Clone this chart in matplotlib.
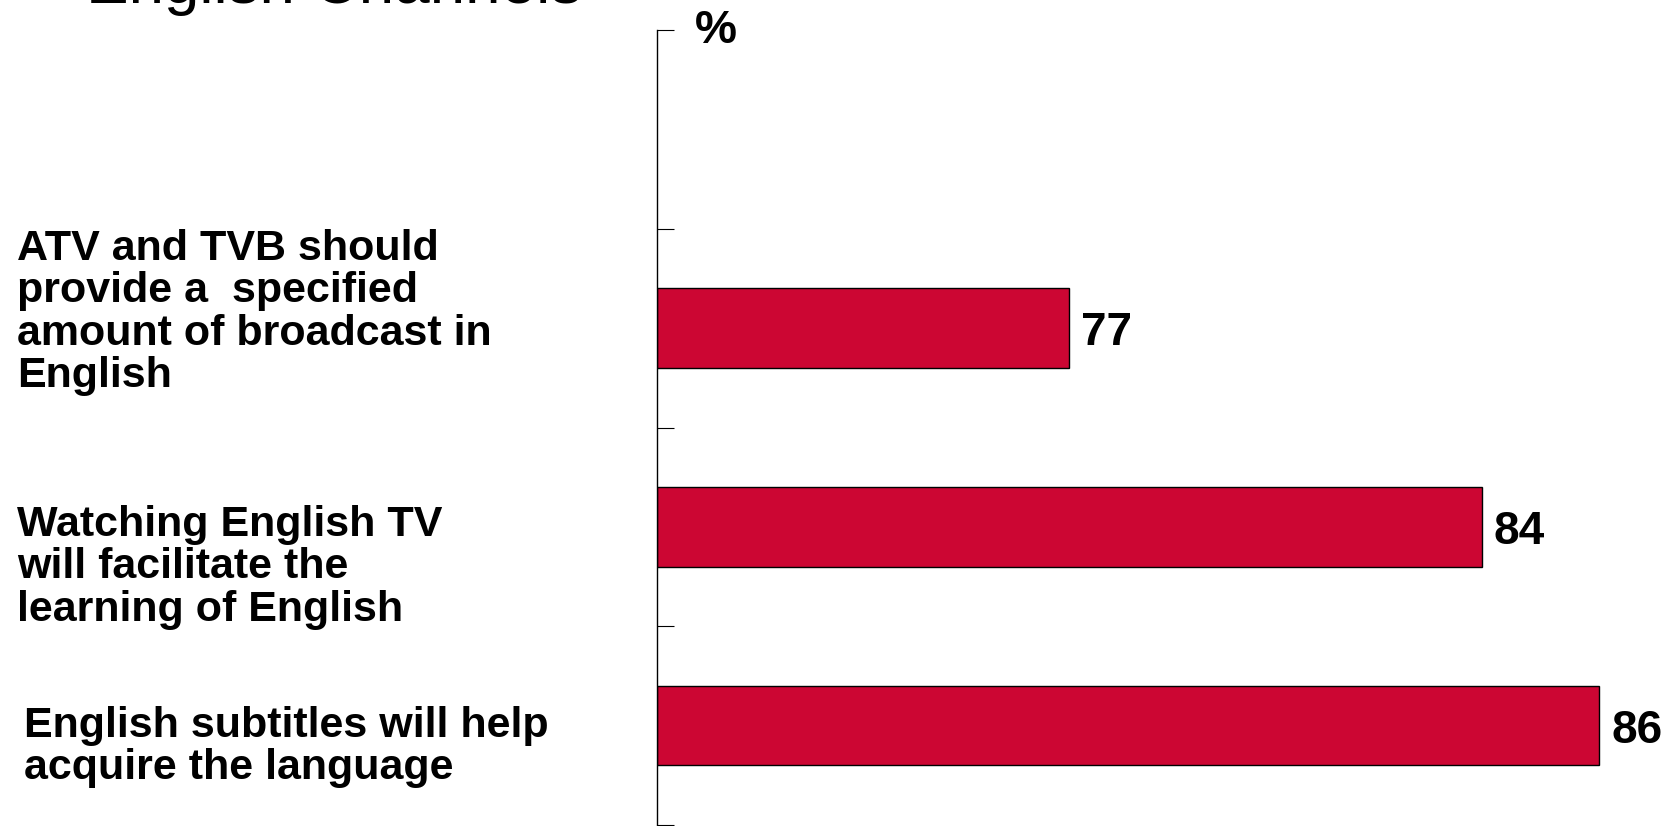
import matplotlib
matplotlib.use("Agg")
from matplotlib import pyplot as plt
from matplotlib import transforms

# Agreement with statements about English channels (%)
statements = [
    "English subtitles will help\nacquire the language",
    "Watching English TV\nwill facilitate the\nlearning of English",
    "ATV and TVB should\nprovide a  specified\namount of broadcast in\nEnglish",
]
percent = [86, 84, 77]

title = "English Channels"
unit_label = "%"

# label placement: figure x (px) and nudge from bar centre (in slot units)
label_x_px = [24, 17, 17]
label_nudge = [0.10, 0.11, 0.50]

bar_red = "#CC0633"

plt.rcParams["font.family"] = ["Liberation Sans", "DejaVu Sans"]

W, H = 1673, 826
fig = plt.figure(figsize=(W / 100, H / 100), dpi=100)

# axes box in pixels: left spine at x=657, top tick at y=30, bottom tick at y=825
left, top, bottom = 657, 30, 825
x_min, x_max = 70, 87
px_per_unit = 58.9
right = left + (x_max - x_min) * px_per_unit
ax = fig.add_axes([left / W, (H - bottom) / H, (right - left) / W, (bottom - top) / H])

ypos = list(range(len(statements)))
ax.barh(ypos, [p - x_min for p in percent], left=x_min, height=0.40,
        color=bar_red, edgecolor="black", linewidth=1.0)

ax.set_xlim(x_min, x_max)
ax.set_ylim(-0.5, len(statements) + 0.5)

for side in ["top", "right", "bottom"]:
    ax.spines[side].set_visible(False)
ax.spines["left"].set_linewidth(1.0)
ax.set_xticks([])
ax.set_yticks([i - 0.5 for i in range(len(statements) + 2)])
ax.set_yticklabels([])
ax.tick_params(axis="y", direction="in", length=12.2, width=0.8)

# value labels next to bar ends
for y, p in zip(ypos, percent):
    ax.annotate(str(p), xy=(p, y), xytext=(8.6, 0), textcoords="offset points",
                ha="left", va="center_baseline", fontsize=33, fontweight="bold")

# statement labels on the left
for y, text, xp, dy in zip(ypos, statements, label_x_px, label_nudge):
    trans = transforms.blended_transform_factory(fig.transFigure, ax.transData)
    ax.text(xp / W, y + dy, text, transform=trans, ha="left", va="top",
            fontsize=31, fontweight="bold", linespacing=1.08)

fig.text(695 / W, 1 - 9 / H, unit_label, ha="left", va="top",
         fontsize=34, fontweight="bold")

# title sits mostly above the canvas
fig.text(86 / W, 1 - 3 / H, title, ha="left", va="baseline", fontsize=46)

fig.savefig("out.png", dpi=100)
